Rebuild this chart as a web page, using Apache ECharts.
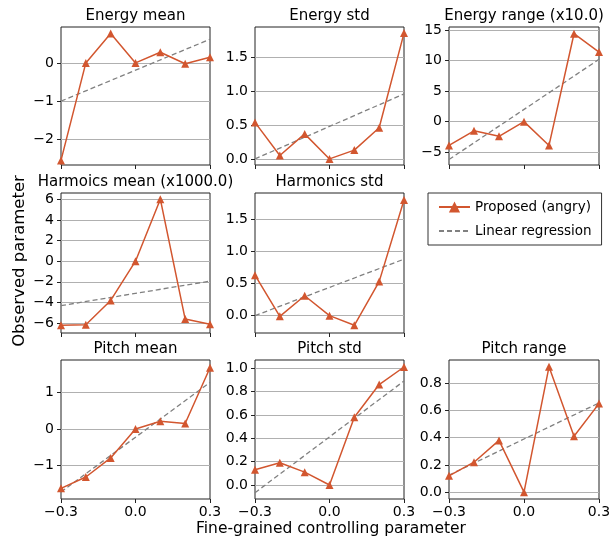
<!DOCTYPE html>
<html>
<head>
<meta charset="utf-8">
<script src="https://cdn.jsdelivr.net/npm/echarts@6/dist/echarts.min.js"></script>
<style>
  html, body { margin: 0; padding: 0; background: #fff; }
  #chart { width: 614px; height: 537px; }
</style>
</head>
<body>
<div id="chart"></div>
<script>
// controlling parameter values (x)
const xs = [-0.3, -0.2, -0.1, 0.0, 0.1, 0.2, 0.3]
const xTicks = [-0.3, 0.0, 0.3]

// proposed (angry) values per panel
const energyMean = [-2.55, 0.0, 0.77, 0.0, 0.28, -0.02, 0.15]
const energyStd = [0.54, 0.05, 0.37, 0.0, 0.13, 0.46, 1.86]
const energyRange = [-3.9, -1.5, -2.4, 0.0, -3.9, 14.4, 11.4]
const harmMean = [-6.2, -6.15, -3.8, 0.0, 6.0, -5.6, -6.1]
const harmStd = [0.63, -0.01, 0.31, 0.0, -0.15, 0.53, 1.8]
const pitchMean = [-1.62, -1.31, -0.79, 0.0, 0.21, 0.15, 1.67]
const pitchStd = [0.13, 0.19, 0.11, 0.0, 0.58, 0.86, 1.01]
const pitchRange = [0.12, 0.22, 0.38, 0.0, 0.92, 0.41, 0.65]

// linear regression, value at x = -0.3 and x = 0.3
const fitX = [-0.3, 0.3]
const energyMeanFit = [-1.0, 0.62]
const energyStdFit = [0.0, 0.96]
const energyRangeFit = [-6.2, 10.2]
const harmMeanFit = [-4.3, -1.93]
const harmStdFit = [0.0, 0.88]
const pitchMeanFit = [-1.72, 1.27]
const pitchStdFit = [-0.066, 0.89]
const pitchRangeFit = [0.125, 0.655]

// y tick labels per panel
const energyMeanTicks = [-2, -1, 0]
const energyStdTicks = [0.0, 0.5, 1.0, 1.5]
const energyRangeTicks = [-5, 0, 5, 10, 15]
const harmMeanTicks = [-6, -4, -2, 0, 2, 4, 6]
const harmStdTicks = [0.0, 0.5, 1.0, 1.5]
const pitchMeanTicks = [-1, 0, 1]
const pitchStdTicks = [0.0, 0.2, 0.4, 0.6, 0.8, 1.0]
const pitchRangeTicks = [0.0, 0.2, 0.4, 0.6, 0.8]

const FONT = 'DejaVu Sans'
const RED = '#d2562f'
const colLeft = [61, 255, 449]
const colWidth = [149, 149, 150]
const rowTop = [27, 193, 360]
const rowHeight = [138, 140, 139]

const panels = [
  { title: 'Energy mean', y: energyMean, fit: energyMeanFit, ticks: energyMeanTicks, dec: 0, range: [-2.67, 0.94], r: 0, c: 0 },
  { title: 'Energy std', y: energyStd, fit: energyStdFit, ticks: energyStdTicks, dec: 1, range: [-0.09, 1.95], r: 0, c: 1 },
  { title: 'Energy range (x10.0)', y: energyRange, fit: energyRangeFit, ticks: energyRangeTicks, dec: 0, range: [-7.1, 15.5], r: 0, c: 2 },
  { title: 'Harmoics mean (x1000.0)', y: harmMean, fit: harmMeanFit, ticks: harmMeanTicks, dec: 0, range: [-6.95, 6.6], r: 1, c: 0 },
  { title: 'Harmonics std', y: harmStd, fit: harmStdFit, ticks: harmStdTicks, dec: 1, range: [-0.27, 1.91], r: 1, c: 1 },
  { title: 'Pitch mean', y: pitchMean, fit: pitchMeanFit, ticks: pitchMeanTicks, dec: 0, range: [-1.91, 1.88], r: 2, c: 0 },
  { title: 'Pitch std', y: pitchStd, fit: pitchStdFit, ticks: pitchStdTicks, dec: 1, range: [-0.12, 1.07], r: 2, c: 1 },
  { title: 'Pitch range', y: pitchRange, fit: pitchRangeFit, ticks: pitchRangeTicks, dec: 1, range: [-0.05, 0.97], r: 2, c: 2 }
]

function fmt (v, dec) {
  return v.toFixed(dec).replace('-', '\u2212')
}

const option = {
  animation: false,
  textStyle: { fontFamily: FONT },
  title: [],
  grid: [],
  xAxis: [],
  yAxis: [],
  series: [],
  legend: {
    orient: 'vertical',
    left: 428,
    top: 193,
    padding: [7, 10, 7, 10],
    itemGap: 10,
    itemWidth: 31,
    itemHeight: 14,
    borderColor: '#333',
    borderWidth: 1,
    borderRadius: 0,
    textStyle: { fontFamily: FONT, fontSize: 13.5, color: '#000' },
    data: [
      { name: 'Proposed (angry)' },
      { name: 'Linear regression', itemStyle: { opacity: 0 } }
    ]
  },
  graphic: [
    {
      type: 'text',
      x: 20,
      y: 261,
      rotation: Math.PI / 2,
      style: { text: 'Observed parameter', font: '16.5px "DejaVu Sans"', fill: '#000', align: 'center', verticalAlign: 'middle' }
    },
    {
      type: 'text',
      x: 331,
      y: 529,
      style: { text: 'Fine-grained controlling parameter', font: '15.5px "DejaVu Sans"', fill: '#000', align: 'center', verticalAlign: 'middle' }
    }
  ]
}

panels.forEach((p, i) => {
  const left = colLeft[p.c]
  const width = colWidth[p.c]
  const top = rowTop[p.r]
  const height = rowHeight[p.r]
  const bottomRow = p.r === 2
  option.title.push({
    text: p.title,
    left: left + width / 2,
    top: top - 18,
    padding: 0,
    textAlign: 'center',
    textStyle: { fontFamily: FONT, fontSize: 15, fontWeight: 'normal', color: '#000' }
  })
  option.grid.push({
    left: left,
    top: top,
    width: width,
    height: height,
    show: true,
    borderColor: '#222',
    borderWidth: 1,
    containLabel: false
  })
  option.xAxis.push({
    type: 'value',
    gridIndex: i,
    min: -0.3,
    max: 0.3,
    axisLine: { show: false, onZero: false },
    splitLine: { show: false },
    axisTick: { show: true, inside: false, length: 4, lineStyle: { color: '#222' }, customValues: xTicks },
    axisLabel: {
      show: bottomRow,
      margin: 6,
      fontFamily: FONT,
      fontSize: 14,
      color: '#000',
      customValues: xTicks,
      formatter: v => fmt(v, 1)
    }
  })
  option.yAxis.push({
    type: 'value',
    gridIndex: i,
    min: p.range[0],
    max: p.range[1],
    axisLine: { show: false, onZero: false },
    splitLine: { show: true, lineStyle: { color: '#b0b0b0', width: 1 } },
    axisTick: { show: true, inside: false, length: 4, lineStyle: { color: '#222' }, customValues: p.ticks },
    axisLabel: {
      margin: 7,
      fontFamily: FONT,
      fontSize: 14,
      color: '#000',
      customValues: p.ticks,
      formatter: v => fmt(v, p.dec)
    }
  })
  option.series.push({
    name: 'Proposed (angry)',
    type: 'line',
    xAxisIndex: i,
    yAxisIndex: i,
    data: xs.map((x, k) => [x, p.y[k]]),
    symbol: 'triangle',
    symbolSize: 8,
    lineStyle: { color: RED, width: 1.5 },
    itemStyle: { color: RED },
    z: 3
  })
  option.series.push({
    name: 'Linear regression',
    type: 'line',
    xAxisIndex: i,
    yAxisIndex: i,
    data: fitX.map((x, k) => [x, p.fit[k]]),
    symbol: 'none',
    lineStyle: { color: '#808080', width: 1.3, type: [5, 3] },
    itemStyle: { color: '#808080' },
    z: 2
  })
})

const myChart = echarts.init(document.getElementById('chart'))
myChart.setOption(option)
</script>
</body>
</html>
